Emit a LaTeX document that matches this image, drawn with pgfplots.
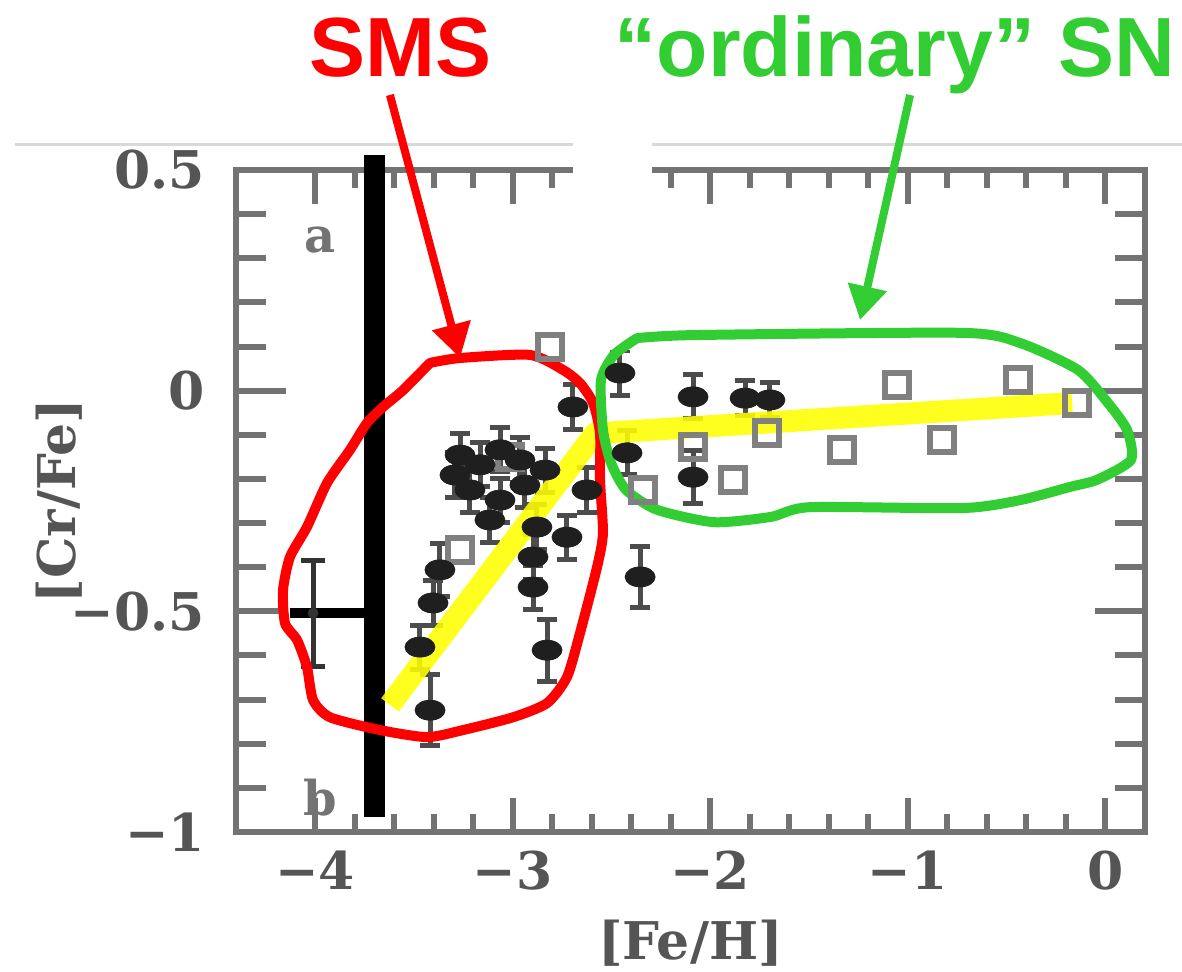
\documentclass[border=0pt]{standalone}
\usepackage{pgfplots}
\pgfplotsset{compat=1.18}
\usepackage{pgfplotstable}
\usepackage{fontspec}
\setmainfont{DejaVu Serif}
\newfontfamily\annfont{Liberation Sans}
\usetikzlibrary{arrows.meta}

\definecolor{smsred}{RGB}{255,0,0}
\definecolor{sngreen}{RGB}{50,205,50}
\definecolor{fityellow}{RGB}{255,255,0}
\definecolor{axgray}{RGB}{115,115,115}
\definecolor{labgray}{RGB}{85,85,85}

% [Fe/H], [Cr/Fe] and error of the stars with filled symbols
\pgfplotstableread{
x       y       e
-2.457   0.040  0.05
-2.695  -0.037  0.05
-2.087  -0.014  0.05
-1.824  -0.017  0.04
-1.698  -0.021  0.04
-2.421  -0.141  0.05
-2.087  -0.196  0.06
-2.355  -0.422  0.07
-3.368  -0.406  0.06
-3.403  -0.481  0.05
-3.469  -0.581  0.05
-3.418  -0.724  0.08
-2.897  -0.377  0.05
-2.897  -0.445  0.05
-2.826  -0.588  0.07
-2.877  -0.309  0.05
-3.266  -0.146  0.05
-3.165  -0.168  0.05
-3.064  -0.134  0.05
-2.963  -0.157  0.05
-3.216  -0.225  0.05
-3.064  -0.248  0.05
-2.938  -0.214  0.05
-2.836  -0.180  0.05
-3.115  -0.293  0.05
-3.292  -0.191  0.05
-2.624  -0.225  0.05
-2.725  -0.332  0.05
}\filledstars

% stars with open squares
\pgfplotstableread{
x       y
-2.811   0.099
-1.055   0.013
-0.443   0.024
-1.333  -0.134
-0.827  -0.112
-0.144  -0.028
-1.713  -0.096
-2.087  -0.128
-1.885  -0.202
-2.340  -0.225
-3.013  -0.150
-3.266  -0.361
}\openstars

\begin{document}
\begin{tikzpicture}
\useasboundingbox (-118pt,-69.5pt) rectangle (473pt,416pt);
\begin{axis}[
  at={(0pt,0pt)}, anchor=south west,
  scale only axis, width=454.5pt, height=331pt,
  xmin=-4.4, xmax=0.2, ymin=-1, ymax=0.5,
  clip=false,
  axis line style={draw=axgray, line width=3.2pt},
  xtick={-4,-3,-2,-1,0}, xticklabels={−4,−3,−2,−1,0},
  ytick={-1,-0.5,0,0.5}, yticklabels={−1,−0.5,0,0.5},
  minor x tick num=4, minor y tick num=4,
  tick align=inside,
  tick style={draw=axgray, line width=3pt},
  major tick length=17pt, minor tick length=9pt,
  ytick style={/pgfplots/major tick length=25pt,/pgfplots/minor tick length=15pt},
  ticklabel style={font=\fontsize{26}{30}\selectfont\bfseries, text=labgray},
  yticklabel style={xshift=-12pt},
  xticklabel style={yshift=-6pt},
  xlabel={[Fe/H]}, ylabel={[Cr/Fe]},
  label style={font=\fontsize{26}{30}\selectfont\bfseries, text=labgray},
  xlabel style={at={(axis description cs:0.5,-0.168)}, anchor=center},
  ylabel style={at={(axis description cs:-0.194,0.5)}, anchor=center},
]
% limit at the lowest metallicity
\addplot[black, line width=10.5pt, line cap=butt] coordinates {(-3.697,0.534) (-3.697,-0.966)};
\addplot[black, line width=5pt] coordinates {(-4.127,-0.504) (-3.697,-0.504)};
\addplot[only marks, mark=*, mark size=2.5pt, black!80,
  error bars/.cd, y dir=both, y explicit,
  error bar style={line width=2.5pt, black!80},
  error mark options={rotate=90, mark size=6pt, line width=2.5pt, black!80}]
  coordinates {(-4.010,-0.504) +- (0,0.12)};

% open squares
\addplot[only marks, mark=square, mark size=6pt,
  mark options={draw=black!50, line width=2.8pt}]
  table[x=x, y=y] {\openstars};

% filled symbols with error bars
\addplot[only marks, mark=*, mark size=5pt,
  mark options={fill=black!88, draw=black!88, xscale=1.5},
  error bars/.cd, y dir=both, y explicit,
  error bar style={line width=2.5pt, black!70},
  error mark options={rotate=90, mark size=5pt, line width=2.5pt, black!70}]
  table[x=x, y=y, y error=e] {\filledstars};

% trend line
\addplot[fityellow, opacity=0.88, line width=11pt, line join=round, line cap=butt]
  coordinates {(-3.621,-0.712) (-2.583,-0.097) (-0.169,-0.028)};

% blank patch over the frame
\addplot[fill=white, draw=none] coordinates {(-2.695,0.62) (-2.295,0.62) (-2.295,0.092) (-2.695,0.092)} -- cycle;
\addplot[black!15, line width=1.5pt] coordinates {(-5.518,0.557) (-2.695,0.557)};
\addplot[black!15, line width=1.5pt] coordinates {(-2.295,0.557) (0.387,0.557)};

% panel letters
\node[font=\fontsize{24}{26}\selectfont\bfseries, text=black!55] at (axis cs:-3.975,0.341) {a};
\node[font=\fontsize{24}{26}\selectfont\bfseries, text=black!55] at (axis cs:-3.975,-0.922) {b};

% SMS region
\addplot[smsred, line width=5pt, line join=round, line cap=round, smooth, tension=0.4]
  coordinates {(-3.418,0.063) (-3.266,0.074) (-2.912,0.081) (-2.745,0.047) (-2.659,0.017)
    (-2.593,-0.028) (-2.558,-0.096) (-2.558,-0.202) (-2.543,-0.323) (-2.573,-0.400)
    (-2.659,-0.549) (-2.725,-0.649) (-2.826,-0.708) (-2.998,-0.740) (-3.251,-0.769)
    (-3.433,-0.785) (-3.671,-0.769) (-3.924,-0.740) (-4.010,-0.701) (-4.041,-0.626)
    (-4.091,-0.565) (-4.152,-0.527) (-4.162,-0.452) (-4.127,-0.377) (-4.041,-0.309)
    (-3.939,-0.209) (-3.823,-0.134) (-3.737,-0.073) (-3.656,-0.037) (-3.555,0.001)
    (-3.418,0.063)};
\addplot[smsred, line width=4pt, -{Triangle[length=17pt,width=19pt]}]
  coordinates {(-3.621,0.670) (-3.266,0.074)};
\node[anchor=base, text=smsred, font=\annfont\bfseries\fontsize{42}{48}\selectfont]
  at (axis cs:-3.570,0.711) {SMS};

% ordinary SN region
\addplot[sngreen, line width=5pt, line join=round, line cap=round, smooth, tension=0.4]
  coordinates {(-2.371,0.119) (-2.077,0.126) (-0.721,0.131) (-0.432,0.108) (-0.139,0.047)
    (0.013,-0.028) (0.109,-0.089) (0.129,-0.157) (-0.043,-0.202) (-0.179,-0.218)
    (-0.432,-0.248) (-0.721,-0.266) (-1.495,-0.264) (-1.693,-0.286) (-1.981,-0.298)
    (-2.269,-0.270) (-2.426,-0.225) (-2.502,-0.164) (-2.543,-0.089) (-2.553,0.024)
    (-2.487,0.081) (-2.371,0.119)};
\addplot[sngreen, line width=4pt, -{Triangle[length=17pt,width=19pt]}]
  coordinates {(-0.989,0.670) (-1.242,0.160)};
\node[anchor=base, text=sngreen, font=\annfont\bfseries\fontsize{42}{48}\selectfont]
  at (axis cs:-1.065,0.711) {“ordinary” SN};
\end{axis}
\end{tikzpicture}
\end{document}
